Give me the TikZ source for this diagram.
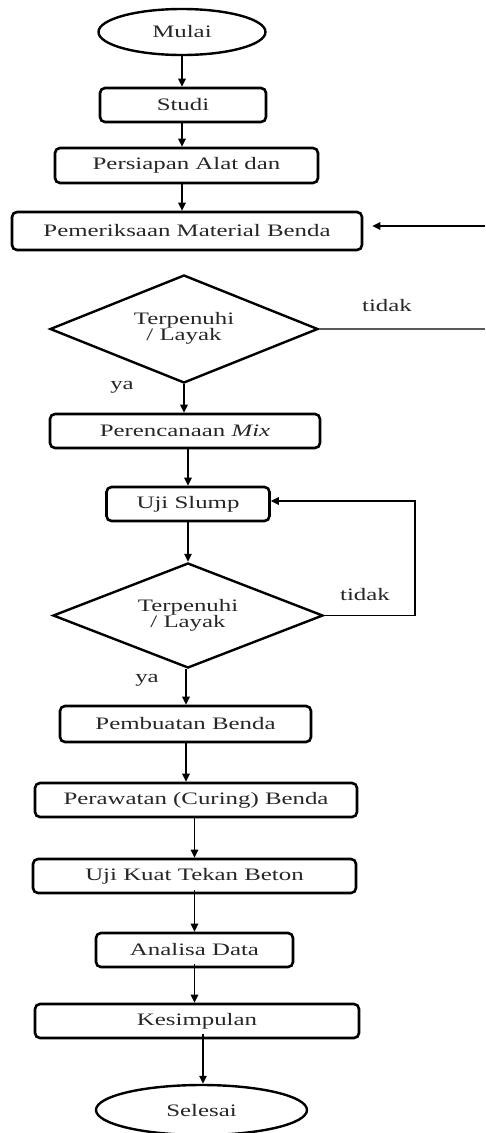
\documentclass[tikz,border=0pt]{standalone}
\usepackage{fontspec}
\setmainfont{Liberation Serif}
\usetikzlibrary{shapes.geometric,arrows.meta,calc}
\newcommand{\stretchtxt}[1]{\scalebox{1.42}[1]{#1}}
\begin{document}
\begin{tikzpicture}[x=1pt,y=-1pt,
  every node/.style={font=\fontsize{17.5}{19}\selectfont, inner sep=0pt, text=black!85},
  procbox/.style={draw, line width=2.6pt, rounded corners=5pt, minimum height=34pt},
  termbox/.style={draw, ellipse, line width=2.4pt},
  decbox/.style={draw, diamond, line width=2.4pt, aspect=2.5},
  arr/.style={line width=1.4pt, -{Triangle[length=8pt,width=7.5pt]}},
  grayline/.style={line width=1.6pt, draw=black!65},
  lbl/.style={}]
\useasboundingbox (0,0) rectangle (485,1133);

% nodes
\node[termbox, minimum width=167pt, minimum height=46pt] (mulai) at (182,32) {\stretchtxt{Mulai}};
\node[procbox, minimum width=166pt] (studi) at (183,105) {\stretchtxt{Studi}};
\node[procbox, minimum width=263pt, minimum height=35pt] (pers) at (186.5,165.5) {\stretchtxt{Persiapan Alat dan}};
\node[procbox, minimum width=350pt, minimum height=38pt] (pem) at (187,231) {\stretchtxt{Pemeriksaan Material Benda}};
\node[decbox, minimum width=268pt, minimum height=108pt] (d1) at (184,329) {\stretchtxt{\begin{tabular}{@{}c@{}}Terpenuhi\\[-3pt]/ Layak\end{tabular}}};
\node[procbox, minimum width=270pt] (mix) at (185,431) {\stretchtxt{Perencanaan \textit{Mix}}};
\node[procbox, minimum width=163pt] (slump) at (188,504) {\stretchtxt{Uji Slump}};
\node[decbox, minimum width=270pt, minimum height=105pt] (d2) at (188,615.5) {\stretchtxt{\begin{tabular}{@{}c@{}}Terpenuhi\\[-3pt]/ Layak\end{tabular}}};
\node[procbox, minimum width=251pt, minimum height=36pt] (buat) at (185.5,724) {\stretchtxt{Pembuatan Benda}};
\node[procbox, minimum width=322pt] (rawat) at (196,800) {\stretchtxt{Perawatan (Curing) Benda}};
\node[procbox, minimum width=323pt] (kuat) at (194.5,876) {\stretchtxt{Uji Kuat Tekan Beton}};
\node[procbox, minimum width=197pt] (analisa) at (194.5,950) {\stretchtxt{Analisa Data}};
\node[procbox, minimum width=324pt] (kesim) at (197,1021) {\stretchtxt{Kesimpulan}};
\node[termbox, minimum width=211pt, minimum height=50pt] (selesai) at (201.5,1110) {\stretchtxt{Selesai}};

% labels
\node[lbl] (tidak1) at (387,306) {\stretchtxt{tidak}};
\node[lbl] (ya1) at (122,387) {\stretchtxt{ya}};
\node[lbl] (tidak2) at (365,595) {\stretchtxt{tidak}};
\node[lbl] (ya2) at (147,680) {\stretchtxt{ya}};

% x positions of the connectors
\coordinate (xa) at (182,0);
\coordinate (xb) at (188,0);
\coordinate (xe) at (186,0);
\coordinate (xc) at (194.5,0);
\coordinate (xd) at (203,0);
\coordinate (redge1) at (485,329);
\coordinate (redge2) at (485,226);
\coordinate (loopx) at (415,0);

% connectors
\draw[arr] (mulai.south -| xa) -- (studi.north -| xa);
\draw[arr] (studi.south -| xa) -- (pers.north -| xa);
\draw[arr] (pers.south -| xa) -- (pem.north -| xa);
\draw[grayline] (d1.east) -- (redge1);
\draw[arr] (redge2) -- ([xshift=9pt]pem.east |- redge2);
\draw[arr] (d1.south) -- (mix.north -| d1.south);
\draw[arr] (mix.south -| xb) -- (slump.north -| xb);
\draw[arr] (slump.south -| xb) -- (d2.north);
\draw[line width=1.4pt] (d2.east) -- (d2.east -| loopx);
\draw[arr] (d2.east -| loopx) -- ([yshift=3pt]slump.east -| loopx) -- ([yshift=3pt]slump.east);
\draw[arr] (d2.south -| xe) -- (buat.north -| xe);
\draw[arr] (buat.south -| xe) -- (rawat.north -| xe);
\draw[arr] (rawat.south -| xc) -- (kuat.north -| xc);
\draw[arr] ([yshift=4pt]kuat.south -| xc) -- (analisa.north -| xc);
\draw[arr] ([yshift=4pt]analisa.south -| xc) -- (kesim.north -| xc);
\draw[arr] ([yshift=5pt]kesim.south -| xd) -- (selesai.north -| xd);
\end{tikzpicture}
\end{document}
